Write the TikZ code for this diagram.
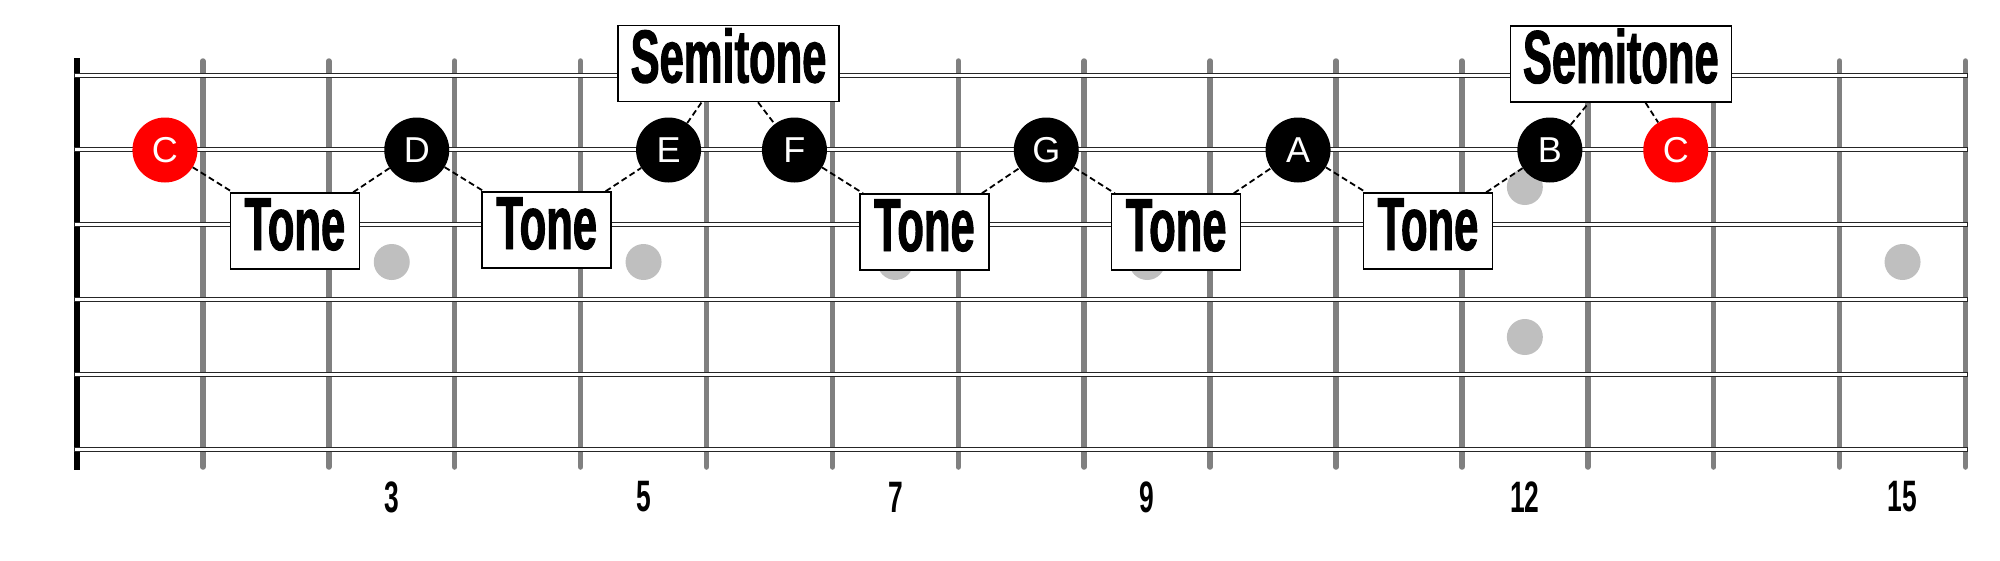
\documentclass[tikz,border=0pt]{standalone}
\usepackage{fontspec}
\setmainfont{Liberation Sans}
\newfontfamily\condfont[FakeStretch=0.58,FakeBold=1.3]{Liberation Sans}
\newfontfamily\numfont[FakeStretch=0.6]{Liberation Sans}
\usetikzlibrary{calc}

\begin{document}
\begin{tikzpicture}[x=1pt,y=-1pt,
	notedot/.style={circle,fill=black,text=white,minimum size=65pt,inner sep=0pt,font=\fontsize{36}{36}\selectfont},
	rootdot/.style={notedot,fill=red},
	stepbox/.style={draw,fill=white,line width=1.5pt,inner sep=0pt,text height=57pt,text depth=19pt,minimum width=129pt,font=\condfont\bfseries\fontsize{75}{75}\selectfont},
	halfbox/.style={stepbox,minimum width=221pt},
	link/.style={dash pattern=on 6pt off 3.5pt,line width=1.8pt},
	fretnum/.style={inner sep=0pt,font=\numfont\bfseries\fontsize{44}{44}\selectfont}]
	\useasboundingbox (0,0) rectangle (2000,560);
	% frets
	\foreach \n in {1,...,15}
	\draw[gray,line width=5.5pt,line cap=round] ({77+125.9*\n},61) -- ({77+125.9*\n},467);
	% nut
	\fill (74,58) rectangle (80,470);
	% strings
	\foreach \s in {0,...,5}
	\draw[fill=white,draw=black!85,line width=1pt] (74,{73+74.8*\s}) rectangle (1967,{77+74.8*\s});
	% inlays
	\foreach \k in {3,5,7,9,15}
	\fill[black!25] ({77+125.9*(\k-0.5)},262) circle (18);
	\fill[black!25] ({77+125.9*11.5},187) circle (18) ({77+125.9*11.5},337) circle (18);
	% fret numbers
	\foreach \k in {3,5,7,9,12,15}
	\node[fretnum] (num\k) at ({77+125.9*(\k-0.5)},497) {\k};
	% notes
	\node[rootdot] (c1) at ({39.05+125.9*1},150) {C};
	\foreach \name/\k/\lbl in {d/3/D,e/5/E,f/6/F,g/8/G,a/10/A,b/12/B}
	\node[notedot] (\name) at ({39.05+125.9*\k},150) {\lbl};
	\node[rootdot] (c2) at ({39.05+125.9*13},150) {C};
	% steps
	\node[stepbox] (t1) at ($(c1)!0.5!(d)+(4,81)$) {Tone};
	\node[stepbox] (t2) at ($(d)!0.5!(e)+(4,80)$) {Tone};
	\node[halfbox] (s1) at ($(e)!0.5!(f)+(-3,-86.5)$) {Semitone};
	\node[stepbox] (t3) at ($(f)!0.5!(g)+(4,82)$) {Tone};
	\node[stepbox] (t4) at ($(g)!0.5!(a)+(4,82)$) {Tone};
	\node[stepbox] (t5) at ($(a)!0.5!(b)+(4,81)$) {Tone};
	\node[halfbox] (s2) at ($(b)!0.5!(c2)+(8,-86)$) {Semitone};
	% links
	\draw[link] (c1) -- (t1) (t1) -- (d);
	\draw[link] (d) -- (t2) (t2) -- (e);
	\draw[link] (e) -- (s1) (s1) -- (f);
	\draw[link] (f) -- (t3) (t3) -- (g);
	\draw[link] (g) -- (t4) (t4) -- (a);
	\draw[link] (a) -- (t5) (t5) -- (b);
	\draw[link] (b) -- (s2) (s2) -- (c2);
\end{tikzpicture}
\end{document}
